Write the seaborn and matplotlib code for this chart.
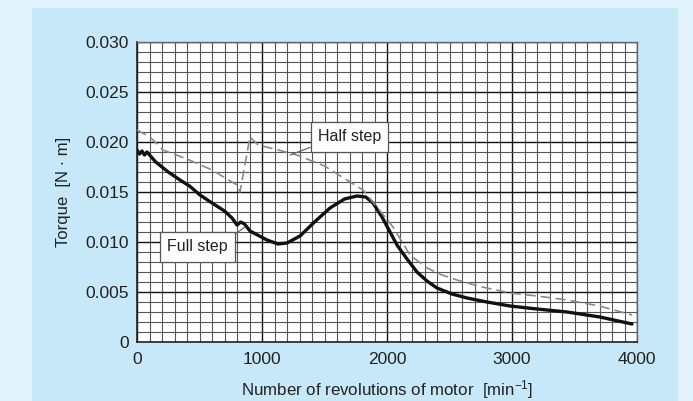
import numpy as np
import pandas as pd
import matplotlib
matplotlib.use("Agg")
import matplotlib.pyplot as plt
import seaborn as sns

# ==========================
# Data
# ==========================

full_rpm = [0, 20, 40, 60, 80, 150, 250, 344, 420, 504, 600, 700, 760, 800, 830,
            860, 904, 1040, 1128, 1200, 1304, 1420, 1544, 1660, 1760, 1830, 1888,
            1960, 2080, 2160, 2240, 2320, 2400, 2520, 2640, 2800, 2984, 3200, 3440,
            3704, 3960]
full_torque = [0.0192, 0.0188, 0.0191, 0.0187, 0.0190, 0.0180, 0.0170, 0.0162,
               0.0156, 0.0147, 0.0139, 0.0131, 0.0124, 0.0117, 0.0120, 0.0118,
               0.0111, 0.0102, 0.0098, 0.0099, 0.0106, 0.0120, 0.0134, 0.0143,
               0.0146, 0.0145, 0.0139, 0.0125, 0.0097, 0.0083, 0.0070, 0.0061,
               0.0054, 0.0048, 0.0044, 0.0040, 0.0036, 0.0033, 0.0030, 0.0025,
               0.0018]

half_rpm = [0, 104, 208, 400, 600, 800, 824, 860, 904, 968, 1100, 1280, 1500,
            1680, 1808, 1900, 2048, 2184, 2320, 2440, 2560, 2760, 2984, 3200,
            3440, 3700, 3960]
half_torque = [0.0212, 0.0205, 0.0192, 0.0183, 0.0172, 0.0157, 0.0150, 0.0175,
               0.0205, 0.0197, 0.0193, 0.0187, 0.0176, 0.0162, 0.0152, 0.0138,
               0.0115, 0.0087, 0.0074, 0.0067, 0.0062, 0.0055, 0.0049, 0.0046,
               0.0042, 0.0036, 0.0027]

x_ticks = [0, 1000, 2000, 3000, 4000]
y_ticks = [0, 0.005, 0.010, 0.015, 0.020, 0.025, 0.030]
y_tick_labels = ["0", "0.005", "0.010", "0.015", "0.020", "0.025", "0.030"]

df = pd.concat([
    pd.DataFrame({"rpm": full_rpm, "torque": full_torque, "mode": "Full step"}),
    pd.DataFrame({"rpm": half_rpm, "torque": half_torque, "mode": "Half step"}),
])

# ==========================
# Style
# ==========================

sns.set_style("white")
plt.rcParams["font.family"] = ["Liberation Sans", "DejaVu Sans"]
plt.rcParams["mathtext.fontset"] = "custom"
plt.rcParams["mathtext.rm"] = "Liberation Sans"
plt.rcParams["mathtext.it"] = "Liberation Sans"

fig = plt.figure(figsize=(6.93, 4.01), dpi=100)
fig.patch.set_facecolor("#e0f2fb")

# light blue panel behind the chart
panel = plt.Rectangle((32 / 693, 0), (678 - 32) / 693, (401 - 8) / 401,
                      transform=fig.transFigure, facecolor="#c6e8f8",
                      edgecolor="none", zorder=-5)
fig.patches.append(panel)

ax = fig.add_axes([137 / 693, 1 - 342 / 401, 500 / 693, 300 / 401])
ax.set_facecolor("white")
ax.set_zorder(1)

# ==========================
# Grid
# ==========================

ax.set_xlim(0, 4000)
ax.set_ylim(0, 0.030)
ax.set_xticks(np.arange(0, 4001, 100), minor=True)
ax.set_yticks(np.arange(0, 0.0301, 0.001), minor=True)
ax.grid(which="minor", color="#555555", linewidth=0.8)
ax.grid(which="major", color="#111111", linewidth=1.0)
ax.set_axisbelow(True)

sns.lineplot(data=df, x="rpm", y="torque", hue="mode", style="mode",
             palette={"Full step": "#111111", "Half step": "#8a8a8a"},
             dashes={"Full step": "", "Half step": (6, 3)},
             size="mode", sizes={"Full step": 2.4, "Half step": 1.2},
             legend=False, ax=ax, zorder=3)

ax.set_xticks(x_ticks)
ax.set_yticks(y_ticks)
ax.set_yticklabels(y_tick_labels)
ax.tick_params(axis="both", which="both", length=0, labelsize=12.5,
               colors="#222222", pad=6)
ax.tick_params(axis="x", pad=7)

for side in ["left", "bottom"]:
    ax.spines[side].set_color("#222222")
    ax.spines[side].set_linewidth(1.2)
for side in ["top", "right"]:
    ax.spines[side].set_color("#666666")
    ax.spines[side].set_linewidth(1.0)

ax.set_xlabel("Number of revolutions of motor  [min$^{-1}$]", fontsize=12.2,
              color="#222222", labelpad=8)
ax.set_ylabel("Torque  [N · m]", fontsize=12, color="#222222", labelpad=10)

# ==========================
# Callout labels
# ==========================

box = dict(boxstyle="square,pad=0.45", facecolor="white", edgecolor="#555555",
           linewidth=0.9)
ax.annotate("Half step", xy=(1224, 0.0187), xytext=(1700, 0.0205),
            ha="center", va="center", fontsize=11.5, color="#222222", bbox=box,
            arrowprops=dict(arrowstyle="-", color="#666666", lw=0.9,
                            shrinkA=0, shrinkB=0, relpos=(0, 0)))
ax.annotate("Full step", xy=(864, 0.0115), xytext=(480, 0.0095),
            ha="center", va="center", fontsize=11.5, color="#222222", bbox=box,
            arrowprops=dict(arrowstyle="-", color="#666666", lw=0.9,
                            shrinkA=0, shrinkB=0, relpos=(1, 1)))

plt.savefig("out.png", dpi=100, facecolor=fig.get_facecolor())
